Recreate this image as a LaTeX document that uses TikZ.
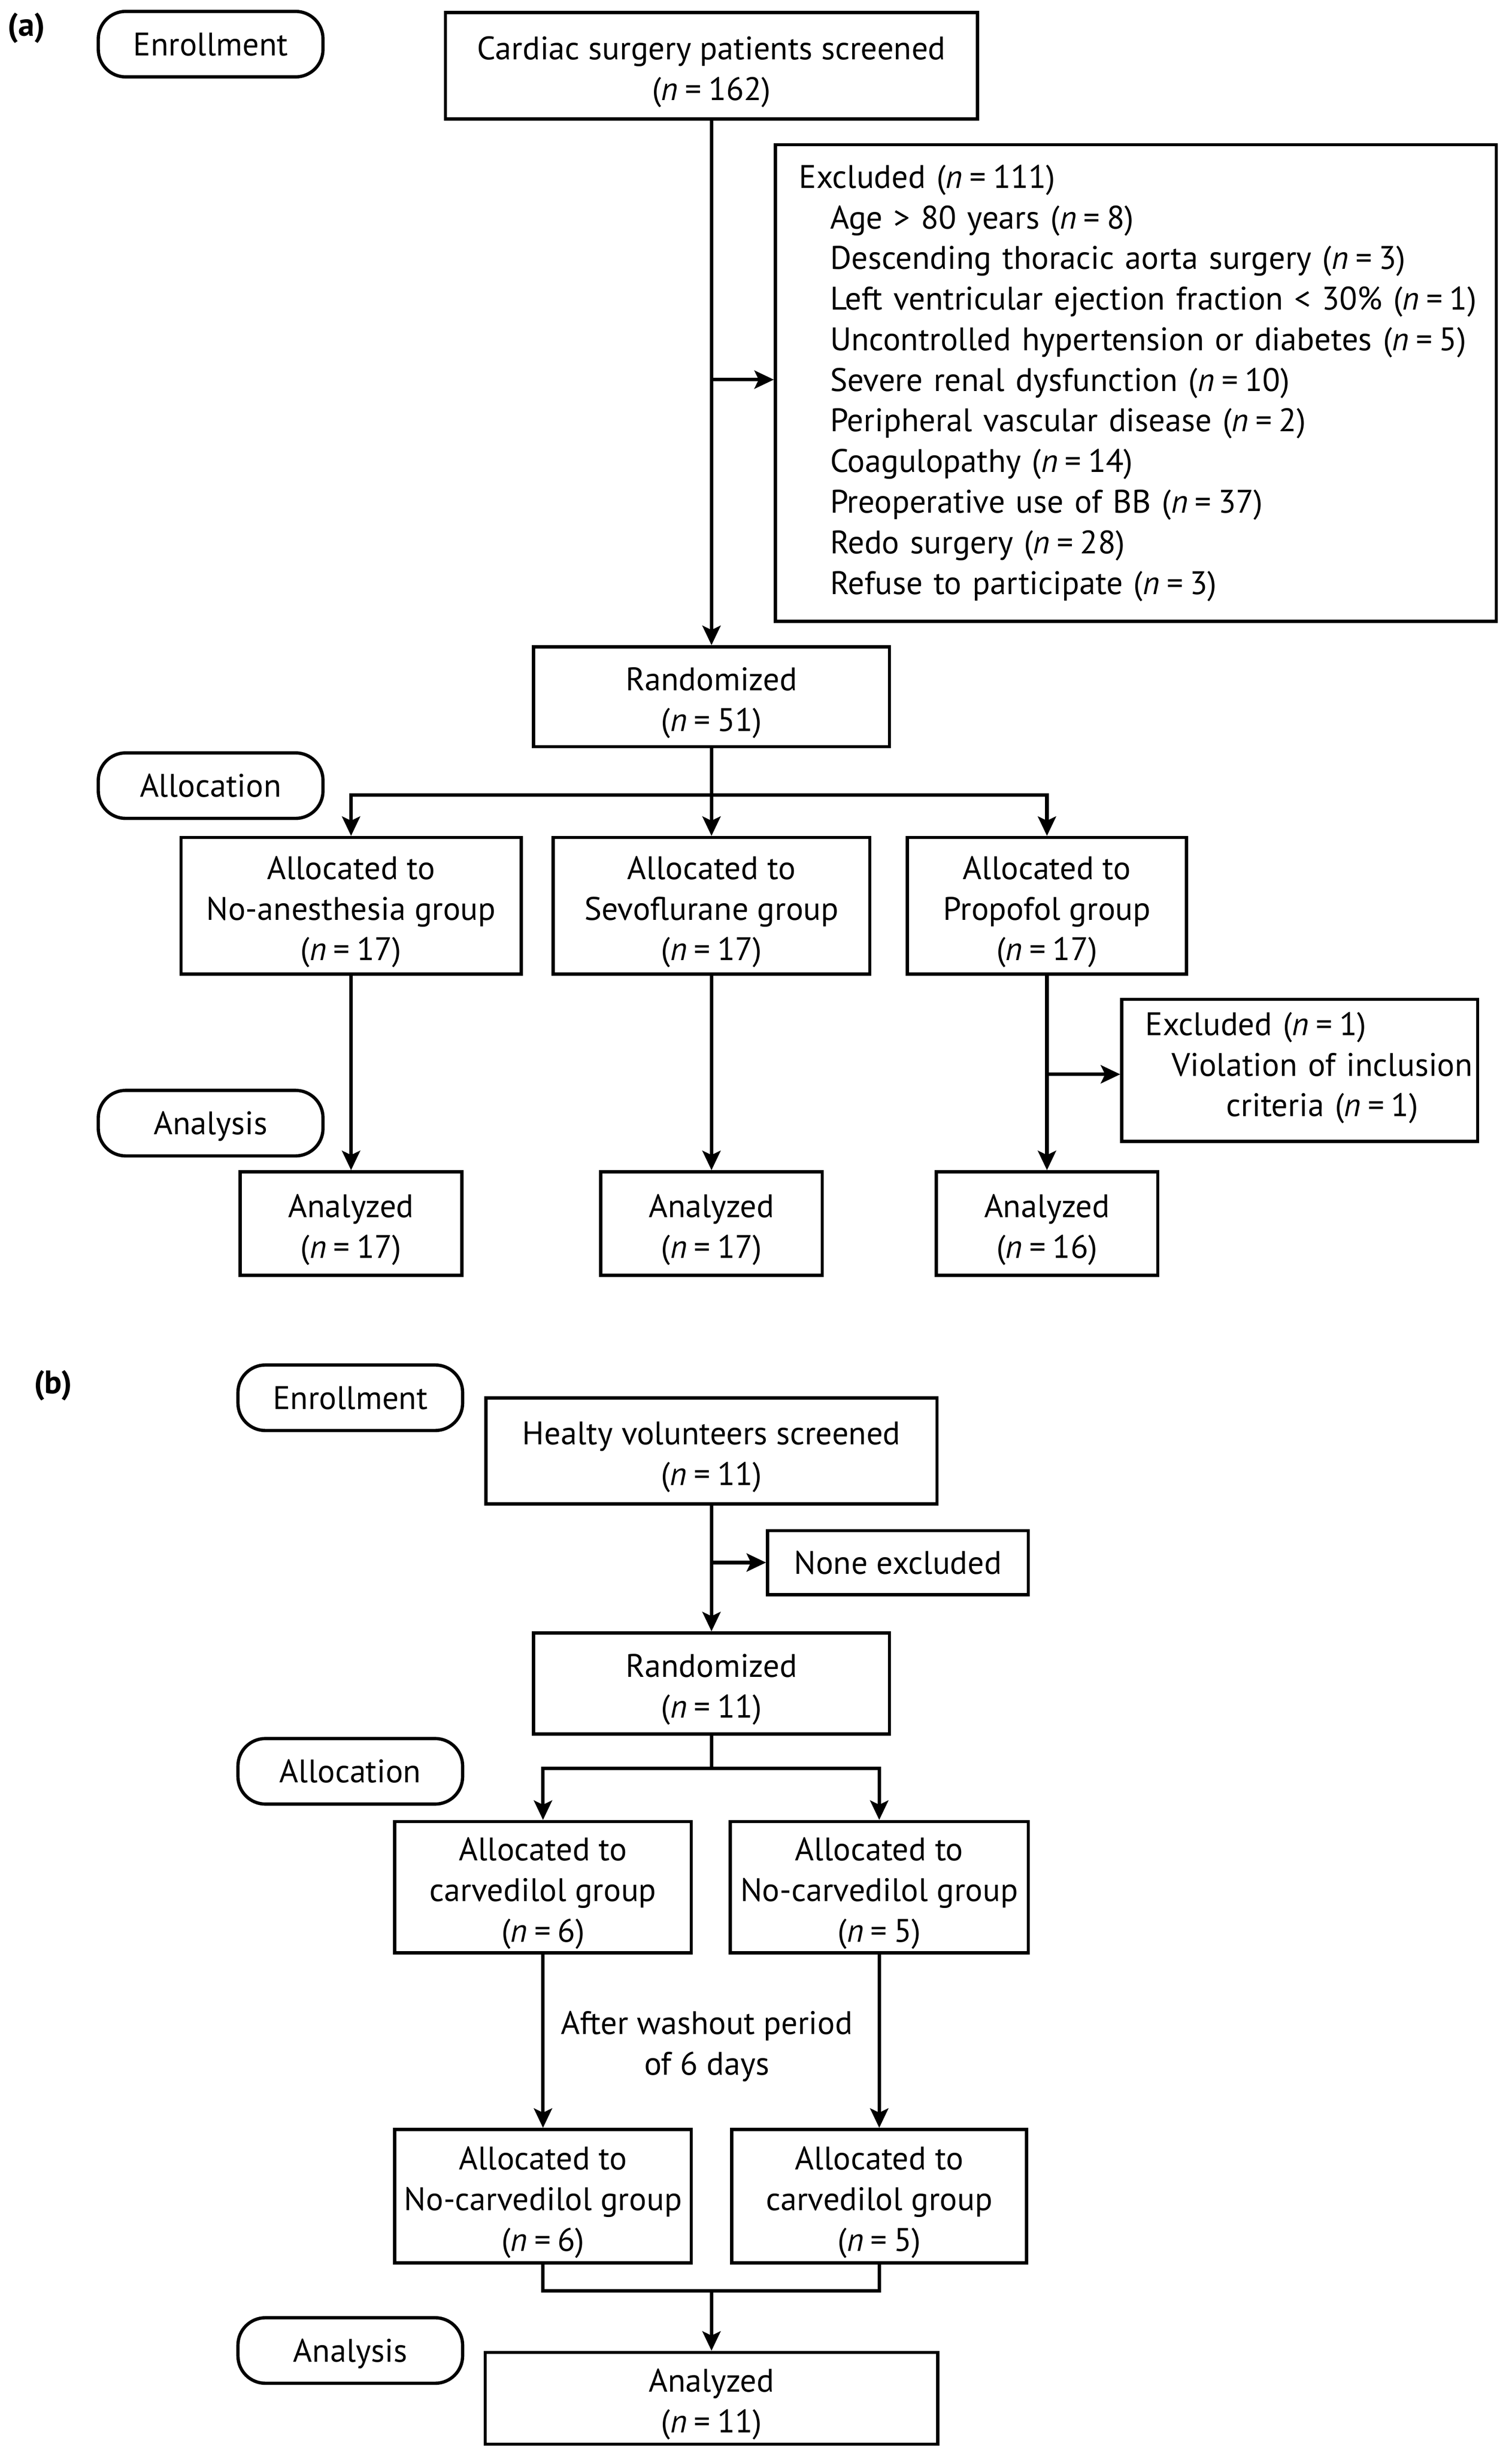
\documentclass[tikz,border=0pt]{standalone}
\usepackage{fontspec}
\setmainfont{PT Sans}
\usetikzlibrary{arrows.meta,calc}
\newcommand\fsz{\fontsize{22}{27.4}\selectfont}
\newcommand\nn[1]{(\textit{n}\kern0.21em=\kern0.21em#1)}
\newcommand\st{\rule{0pt}{0.84cm}}
\tikzset{
  box/.style={draw, line width=2.2pt, rectangle, align=center, inner sep=0pt, font=\fsz},
  pill/.style={draw, line width=2.2pt, rectangle, rounded corners=0.65cm, minimum width=5.328cm, minimum height=1.554cm, inner sep=0pt, text height=15.4pt, text depth=0pt, font=\fsz},
  arr/.style={line width=2.4pt, -{Stealth[length=0.46cm,width=0.43cm,inset=0.1cm]}},
  ln/.style={line width=2.4pt},
  plain/.style={align=center, inner sep=0pt, font=\fsz},
}
\begin{document}
\begin{tikzpicture}[x=0.037cm,y=-0.037cm]
\useasboundingbox (0,0) rectangle (969,1572.1);
% ---------------- (a)
\node[plain, font=\fsz\bfseries] (la) at (17,18) {(a)};
\node[pill] (enrA) at (135,28.3) {Enrollment};
\node[pill] (allA) at (135,503.5) {Allocation};
\node[pill] (anaA) at (135,719.8) {Analysis};

\node[box, minimum width=12.617cm, minimum height=2.527cm] (scrA) at (456,42.2)
  {\st Cardiac surgery patients screened\\\nn{162}};
\node[box, align=left, text width=15.984cm, inner xsep=0.555cm, minimum width=17.094cm, minimum height=11.30cm] (exA) at (728,245.5)
  {\mbox{Excluded \nn{111}}\\
   \hspace*{0.74cm}\mbox{Age > 80 years \nn{8}}\\
   \hspace*{0.74cm}\mbox{Descending thoracic aorta surgery \nn{3}}\\
   \hspace*{0.74cm}\mbox{Left ventricular ejection fraction < 30\% \nn{1}}\\
   \hspace*{0.74cm}\mbox{Uncontrolled hypertension or diabetes \nn{5}}\\
   \hspace*{0.74cm}\mbox{Severe renal dysfunction \nn{10}}\\
   \hspace*{0.74cm}\mbox{Peripheral vascular disease \nn{2}}\\
   \hspace*{0.74cm}\mbox{Coagulopathy \nn{14}}\\
   \hspace*{0.74cm}\mbox{Preoperative use of BB \nn{37}}\\
   \hspace*{0.74cm}\mbox{Redo surgery \nn{28}}\\
   \hspace*{0.74cm}\mbox{Refuse to participate \nn{3}}};
\node[box, minimum width=8.436cm, minimum height=2.368cm] (randA) at (456,446.5)
  {\st Randomized\\\nn{51}};
\node[box, minimum width=8.066cm, minimum height=3.2375cm] (al1) at (225,580.5)
  {\st Allocated to\\No-anesthesia group\\\nn{17}};
\node[box, minimum width=7.511cm, minimum height=3.2375cm] (al2) at (456,580.5)
  {\st Allocated to\\Sevoflurane group\\\nn{17}};
\node[box, minimum width=6.623cm, minimum height=3.2375cm] (al3) at (671,580.5)
  {\st Allocated to\\Propofol group\\\nn{17}};
\node[box, align=left, text width=7.326cm, inner xsep=0.555cm, minimum width=8.436cm, minimum height=3.367cm] (exA2) at (833,686)
  {\mbox{Excluded \nn{1}}\\
   \hspace*{0.629cm}\begin{tabular}[t]{@{}c@{}}Violation of inclusion\\criteria \nn{1}\end{tabular}};
\node[box, minimum width=5.254cm, minimum height=2.457cm] (an1) at (225,784.2)
  {\st Analyzed\\\nn{17}};
\node[box, minimum width=5.254cm, minimum height=2.457cm] (an2) at (456,784.2)
  {\st Analyzed\\\nn{17}};
\node[box, minimum width=5.254cm, minimum height=2.457cm] (an3) at (671,784.2)
  {\st Analyzed\\\nn{16}};

\coordinate (bA) at (456,243.3);
\draw[arr] (scrA.south) -- (randA.north);
\draw[arr] (bA) -- (bA -| exA.west);
\coordinate (sA) at (456,509.5);
\draw[ln] (randA.south) -- (sA);
\draw[arr] (sA) -| (al1.north);
\draw[arr] (sA) -| (al3.north);
\draw[arr] (sA) -- (al2.north);
\draw[arr] (al1.south) -- (an1.north);
\draw[arr] (al2.south) -- (an2.north);
\draw[arr] (al3.south) -- (an3.north);
\coordinate (bA2) at (671,688.5);
\draw[arr] (bA2) -- (bA2 -| exA2.west);

% ---------------- (b)
\node[plain, font=\fsz\bfseries] (lb) at (34,888) {(b)};
\node[pill] (enrB) at (224.5,895.8) {Enrollment};
\node[pill] (allB) at (224.5,1135.2) {Allocation};
\node[pill] (anaB) at (224.5,1506.4) {Analysis};

\node[box, minimum width=10.693cm, minimum height=2.509cm] (scrB) at (456,929.9)
  {\st Healty volunteers screened\\\nn{11}};
\node[box, minimum width=6.179cm, minimum height=1.517cm, text height=15.4pt, text depth=0pt] (noneB) at (575.5,1001.5)
  {None excluded};
\node[box, minimum width=8.436cm, minimum height=2.394cm] (randB) at (456,1078.9)
  {\st Randomized\\\nn{11}};
\node[box, minimum width=7.03cm, minimum height=3.115cm] (bl1) at (348,1209.5)
  {\st Allocated to\\carvedilol group\\\nn{6}};
\node[box, minimum width=7.067cm, minimum height=3.115cm] (bl2) at (563.5,1209.5)
  {\st Allocated to\\No-carvedilol group\\\nn{5}};
\node[plain] (wash) at (453,1311.5) {After washout period\\of 6 days};
\node[box, minimum width=7.03cm, minimum height=3.164cm] (bl3) at (348,1407.5)
  {\st Allocated to\\No-carvedilol group\\\nn{6}};
\node[box, minimum width=6.993cm, minimum height=3.164cm] (bl4) at (563.5,1407.5)
  {\st Allocated to\\carvedilol group\\\nn{5}};
\node[box, minimum width=10.73cm, minimum height=2.176cm] (anB) at (456,1537)
  {\st Analyzed\\\nn{11}};

\coordinate (bB) at (456,1001.4);
\draw[arr] (scrB.south) -- (randB.north);
\draw[arr] (bB) -- (bB -| noneB.west);
\coordinate (sB) at (456,1133.3);
\draw[ln] (randB.south) -- (sB);
\draw[arr] (sB) -| (bl1.north);
\draw[arr] (sB) -| (bl2.north);
\draw[arr] (bl1.south) -- (bl3.north);
\draw[arr] (bl2.south) -- (bl4.north);
\coordinate (mB) at (456,1468.2);
\draw[ln] (bl3.south) |- (mB);
\draw[ln] (bl4.south) |- (mB);
\draw[arr] (mB) -- (anB.north);
\end{tikzpicture}
\end{document}
